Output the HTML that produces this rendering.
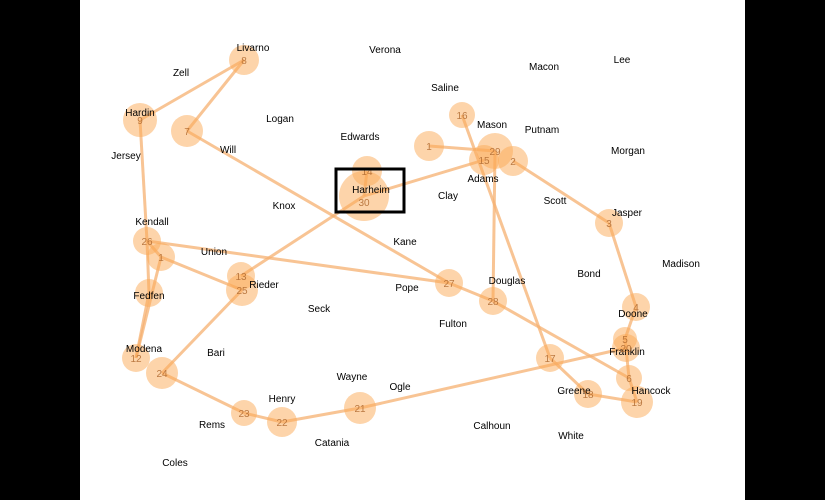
<!DOCTYPE html>
<html><head><meta charset="utf-8"><style>
body{margin:0;background:#000;width:825px;height:500px;overflow:hidden}
#wrap{position:absolute;left:80px;top:0;width:665px;height:500px;background:#fff}
svg{position:absolute;left:0;top:0}
.city{font:10px "Liberation Sans",sans-serif;fill:#000;text-anchor:middle}
.num{font:10px "Liberation Sans",sans-serif;fill:#b06a30;text-anchor:middle;opacity:.85}
</style></head><body>
<div id="wrap"></div>
<svg id="chart" width="825" height="500"></svg>
<script>
const stopIds=["8","9","7","14","30","1","16","15","29","2","3","4","5","20","6","19","18","17","27","28","26","11","F","13","25","12","24","23","22","21"];
const stopX=[244,140,187,367,364,429,462,484,495,513,609,636,625,626,629,637,588,550,449,493,147,161,149,241,242,136,162,244,282,360];
const stopY=[60,120,131,171,196,146,115,160,151,161,223,307,339,348,378,402,394,358,283,301,241,257,293,276,290,358,373,413,422,408];
const stopR=[15,17,16,15,25,15,13,15,18,15,14,14,12,14,13,16,14,14,14,14,14,14,14,14,16,14,16,13,15,16];
const stopLabel=["8","9","7","14","30","1","16","15","29","2","3","4","5","20","6","19","18","17","27","28","26","1","","13","25","12","24","23","22","21"];
const edgeFrom=["8","8","7","27","28","26","26","9","26","11","11","25","13","30","1","16","29","2","3","4","5","20","6","19","18","20","21","22","23","30","F"];
const edgeTo=["9","7","27","28","6","27","11","26","F","12","25","24","30","15","29","17","28","3","4","5","20","6","19","18","17","21","22","23","24","14","12"];
const cityNames=["Livarno","Verona","Zell","Saline","Macon","Lee","Hardin","Logan","Mason","Putnam","Edwards","Jersey","Will","Morgan","Adams","Clay","Scott","Jasper","Knox","Kendall","Kane","Union","Madison","Bond","Douglas","Pope","Rieder","Seck","Doone","Fulton","Franklin","Modena","Bari","Wayne","Ogle","Greene","Hancock","Henry","Rems","Catania","Calhoun","White","Coles","Fedfen","Harheim"];
const cityX=[253,385,181,445,544,622,140,280,492,542,360,126,228,628,483,448,555,627,284,152,405,214,681,589,507,407,264,319,633,453,627,144,216,352,400,574,651,282,212,332,492,571,175,149,371];
const cityY=[51,53,76,91,70,63,116,122,128,133,140,159,153,154,182,199,204,216,209,225,245,255,267,277,284,291,288,312,317,327,355,352,356,380,390,394,394,402,428,446,429,439,466,299,193];
const svg=document.getElementById('chart');
const NS='http://www.w3.org/2000/svg';
function mk(t,a){const e=document.createElementNS(NS,t);for(const k in a)e.setAttribute(k,a[k]);return e;}
const idx=id=>stopIds.indexOf(id);
edgeFrom.forEach((f,i)=>{const a=idx(f),b=idx(edgeTo[i]);
 const l=mk('line',{x1:stopX[a],y1:stopY[a],x2:stopX[b],y2:stopY[b],stroke:'#f6b070','stroke-width':3,'stroke-opacity':0.75});
 
 
 svg.appendChild(l);});
stopIds.forEach((id,i)=>{const c=mk('circle',{cx:stopX[i],cy:stopY[i],r:stopR[i],fill:'#fba955','fill-opacity':0.5});
 
 
 svg.appendChild(c);});
cityNames.forEach((n,i)=>{const t=mk('text',{x:cityX[i],y:cityY[i],class:'city'});t.textContent=n;
 
 
 svg.appendChild(t);});
stopIds.forEach((id,i)=>{if(!stopLabel[i])return;const t=mk('text',{x:stopX[i],y:stopY[i]+(id==='30'?10:4),class:'num'});t.textContent=stopLabel[i];
 
 
 svg.appendChild(t);});
const r=mk('rect',{x:336,y:169,width:68,height:43,fill:'none',stroke:'#000','stroke-width':3});


svg.appendChild(r);
</script>
</body></html>
